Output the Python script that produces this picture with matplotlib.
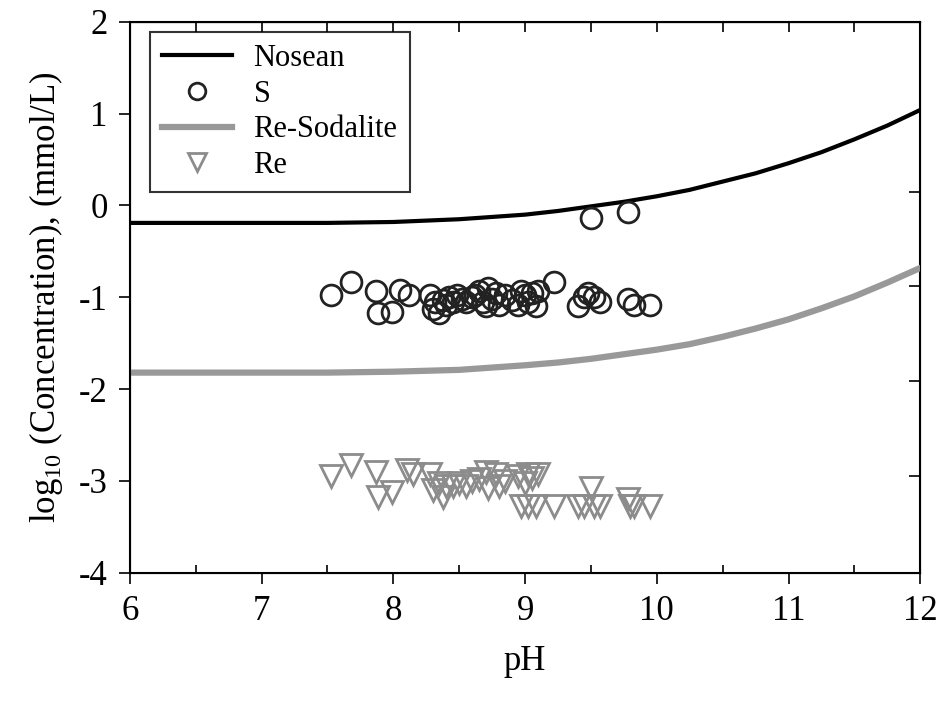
import numpy as np
import matplotlib.pyplot as plt

plt.rcParams['font.family'] = ['Liberation Serif', 'DejaVu Serif']
plt.rcParams['mathtext.fontset'] = 'custom'
plt.rcParams['mathtext.rm'] = 'Liberation Serif'

# model curves
ph_curve = [6.0, 6.5, 7.0, 7.5, 8.0, 8.5, 9.0, 9.25, 9.5, 9.75, 10.0, 10.25, 10.5, 10.75,
            11.0, 11.25, 11.5, 11.75, 12.0]
nosean = [-0.19, -0.19, -0.19, -0.19, -0.18, -0.15, -0.10, -0.06, -0.01, 0.04, 0.10, 0.17,
          0.26, 0.35, 0.46, 0.58, 0.72, 0.87, 1.04]
re_sodalite = [-1.82, -1.82, -1.82, -1.82, -1.81, -1.79, -1.74, -1.71, -1.67, -1.62, -1.57,
               -1.51, -1.43, -1.34, -1.24, -1.12, -0.99, -0.84, -0.68]

# measured S
s_ph = [7.53, 7.68, 7.87, 7.88, 7.99, 8.05, 8.12, 8.28, 8.30, 8.32, 8.35, 8.38, 8.40,
        8.42, 8.45, 8.48, 8.52, 8.55, 8.60, 8.62, 8.65, 8.68, 8.70, 8.72, 8.75, 8.78,
        8.80, 8.85, 8.90, 8.95, 8.97, 9.00, 9.02, 9.05, 9.08, 9.10, 9.22, 9.40, 9.45,
        9.48, 9.52, 9.57, 9.78, 9.83, 9.95, 9.50, 9.78]
s_val = [-0.98, -0.83, -0.93, -1.17, -1.16, -0.92, -0.98, -0.97, -1.13, -1.05, -1.17, -1.03, -1.08,
         -1.00, -1.05, -0.98, -1.02, -1.05, -1.00, -0.97, -0.93, -1.05, -1.10, -0.90, -1.02, -0.95,
         -1.08, -0.97, -1.03, -1.08, -0.93, -0.98, -1.05, -0.95, -1.10, -0.93, -0.83, -1.10, -1.00,
         -0.95, -1.00, -1.05, -1.02, -1.08, -1.08, -0.14, -0.07]

# measured Re
re_ph = [7.53, 7.68, 7.87, 7.88, 7.99, 8.10, 8.15, 8.28, 8.30, 8.35, 8.38, 8.40, 8.45, 8.50,
         8.55, 8.60, 8.65, 8.70, 8.72, 8.78, 8.80, 8.85, 8.95, 9.00, 9.02, 9.05, 9.10, 8.97,
         9.02, 9.08, 9.22, 9.40, 9.45, 9.50, 9.52, 9.57, 9.78, 9.80, 9.83, 9.95]
re_val = [-2.95, -2.83, -2.90, -3.17, -3.12, -2.88, -2.92, -2.92, -3.10, -3.02, -3.17, -3.05, -3.05, -3.02,
          -3.05, -3.00, -2.98, -2.90, -3.08, -2.92, -3.05, -3.00, -2.95, -3.02, -2.92, -2.97, -2.92, -3.27,
          -3.27, -3.27, -3.27, -3.27, -3.27, -3.08, -3.27, -3.27, -3.20, -3.27, -3.27, -3.27]

fig = plt.figure(figsize=(9.41, 7.02), dpi=100)
ax = fig.add_axes([0.138, 0.184, 0.840, 0.785])

ax.plot(ph_curve, nosean, color='black', lw=3, label='Nosean', zorder=3)
ax.plot(s_ph, s_val, ls='none', marker='o', ms=15, mfc='none', mec='#222222', mew=2,
        label='S', zorder=4)
ax.plot(ph_curve, re_sodalite, color='#999999', lw=4.5, label='Re-Sodalite', zorder=3)
ax.plot(re_ph, re_val, ls='none', marker='v', ms=16, mfc='none', mec='#8c8c8c', mew=2,
        label='Re', zorder=4)

ax.set_xlim(6, 12)
ax.set_ylim(-4, 2)
ax.set_xticks(range(6, 13))
ax.set_xticks(np.arange(6.5, 12, 1), minor=True)
ax.set_yticks(range(-4, 3))
ax.set_yticklabels([str(v) for v in range(-4, 3)])
ax.tick_params(axis='both', which='major', labelsize=25, direction='out', length=8, width=1.2, pad=8)
ax.tick_params(axis='x', which='minor', direction='in', length=6, width=1.2)
ax.tick_params(axis='x', which='both', top=False)
for sp in ax.spines.values():
    sp.set_linewidth(1.5)

# SigmaPlot-style top ticks pointing inward
topax = ax.secondary_xaxis('top')
topax.set_xticks(np.arange(6.5, 12, 0.5))
topax.tick_params(direction='in', length=7, width=1.2, labeltop=False)

rax = ax.twinx()
rax.set_ylim(-4, 2)
rax.set_yticks([0.15, -0.88, -1.91, -2.95])
rax.tick_params(direction='in', length=8, width=1.2, labelright=False)

ax.set_xlabel('pH', fontsize=25, labelpad=12)
ax.set_ylabel(r'log$_{10}$ (Concentration), (mmol/L)', fontsize=25, labelpad=10)

leg = ax.legend(loc='upper left', fontsize=22, frameon=True, fancybox=False,
                edgecolor='black', handlelength=2.3, handletextpad=0.7, borderaxespad=0,
                labelspacing=0.22, borderpad=0.4, bbox_to_anchor=(0.025, 0.982))
leg.get_frame().set_linewidth(1.5)
leg.legend_handles[1].set_markersize(12)
leg.legend_handles[3].set_markersize(13)

fig.savefig('out.png', dpi=100)
